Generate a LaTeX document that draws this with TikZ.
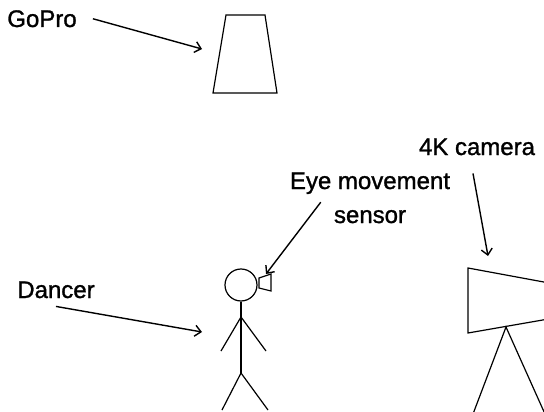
\documentclass[tikz,border=0pt]{standalone}
\usepackage{fontspec}
\setmainfont{Liberation Sans}
\newfontfamily\tagfont{Liberation Sans}[FakeBold=1.2]
\usetikzlibrary{arrows.meta}

\begin{document}
\begin{tikzpicture}[
    x=1pt, y=-1pt,
    txt/.style={
        font=\tagfont\fontsize{24}{28}\selectfont,
        inner sep=0pt,
        anchor=base
    },
    outline/.style={
        draw=black,
        line width=1.2pt
    },
    arrow/.style={
        -{Straight Barb[length=6pt,width=11pt]},
        line width=1.4pt
    }
]
\clip (0,0) rectangle (544,412);

% Labels
\node (gopro)  [txt] at (42,27)   {GoPro};
\node (dancer) [txt] at (56,298)  {Dancer};
\node (eye)    [txt] at (370,189) {Eye movement};
\node (sensor) [txt] at (370,223) {sensor};
\node (cam4k)  [txt] at (477,155) {4K camera};

% GoPro
\draw[outline] (226,15) -- (265,15) -- (277,93) -- (213,93) -- cycle;
\coordinate (goproTip) at (202,49);

% Dancer with the eye sensor
\node (head) [outline, circle, minimum size=32pt, inner sep=0pt] at (241,285) {};
\coordinate (hip) at (241,373);
\draw[outline] (head.south) -- (hip);
\draw[outline] (221,351) -- (241,317) -- (266,351);
\draw[outline] (222,410) -- (hip) -- (268,410);
\draw[outline] (259,278) -- (271,274) -- (271,291) -- (259,288) -- cycle;
\coordinate (dancerTip) at (202,332);
\coordinate (eyeTip) at (266,274);

% 4K camera on its tripod
\draw[outline] (560,285) -- (468,268) -- (468,333) -- (560,317);
\draw[outline] (473,414) -- (506,327) -- (545,414);
\coordinate (camTip) at (488,256);

% Arrows
\draw[arrow] ([xshift=16pt]gopro.east) -- (goproTip);
\draw[arrow] ([yshift=-8pt]dancer.south) -- (dancerTip);
\draw[arrow] ([xshift=31pt,yshift=-8pt]eye.south west) -- (eyeTip);
\draw[arrow] ([xshift=-4pt,yshift=-18pt]cam4k.south) -- (camTip);

\end{tikzpicture}
\end{document}
